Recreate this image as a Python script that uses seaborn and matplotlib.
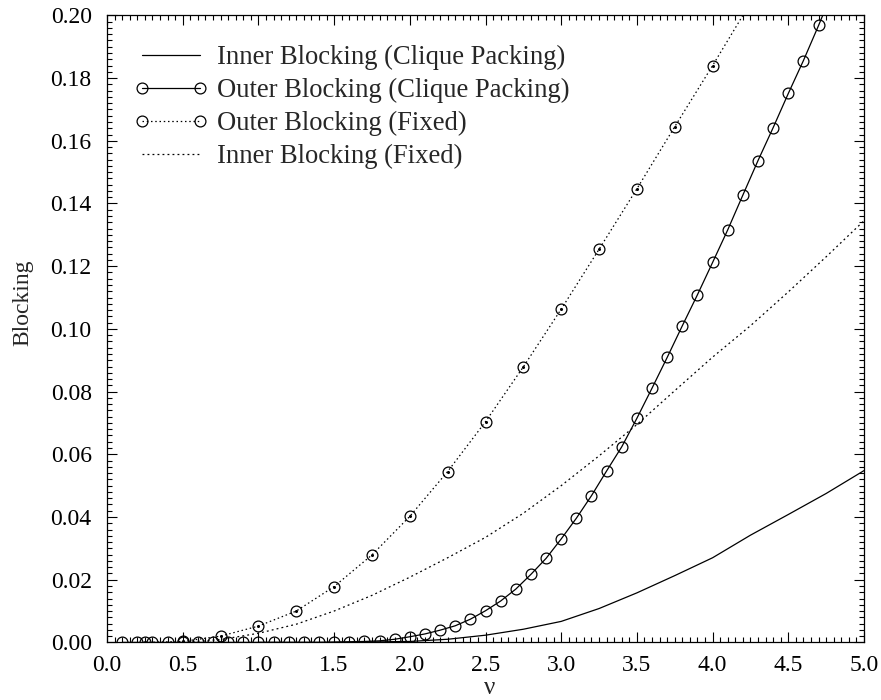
import numpy as np
import pandas as pd
import matplotlib
matplotlib.use("Agg")
import matplotlib.pyplot as plt
import seaborn as sns
from matplotlib.ticker import MultipleLocator, FormatStrFormatter

# ---- data ----
# Outer Blocking (Clique Packing): markers every 0.1
outer_cp_x = [0.1, 0.2, 0.3, 0.4, 0.5, 0.6, 0.7, 0.8, 0.9, 1.0,
              1.1, 1.2, 1.3, 1.4, 1.5, 1.6, 1.7, 1.8, 1.9, 2.0,
              2.1, 2.2, 2.3, 2.4, 2.5, 2.6, 2.7, 2.8, 2.9, 3.0,
              3.1, 3.2, 3.3, 3.4, 3.5, 3.6, 3.7, 3.8, 3.9, 4.0,
              4.1, 4.2, 4.3, 4.4, 4.5, 4.6, 4.7, 4.8]
outer_cp_y = [0.0, 0.0, 0.0, 0.0, 0.0, 0.0, 0.0, 0.0, 0.0, 0.0,
              0.0, 0.0, 0.0, 0.0, 0.0001, 0.0002, 0.0003, 0.0005, 0.0010, 0.0018,
              0.0027, 0.0039, 0.0053, 0.0074, 0.0101, 0.0132, 0.0170, 0.0217, 0.0268, 0.0330,
              0.0396, 0.0468, 0.0547, 0.0624, 0.0715, 0.0811, 0.0909, 0.1010, 0.1109, 0.1212,
              0.1316, 0.1427, 0.1537, 0.1642, 0.1751, 0.1856, 0.1968, 0.2085]

# Outer Blocking (Fixed): markers every 0.25
outer_fx_x = [0.25, 0.5, 0.75, 1.0, 1.25, 1.5, 1.75, 2.0, 2.25, 2.5,
              2.75, 3.0, 3.25, 3.5, 3.75, 4.0, 4.25]
outer_fx_y = [0.0, 0.0003, 0.0020, 0.0052, 0.0100, 0.0178, 0.0279, 0.0402, 0.0545, 0.0704,
              0.0879, 0.1063, 0.1254, 0.1447, 0.1645, 0.1840, 0.2040]

# Inner Blocking (Clique Packing)
inner_cp_x = [1.0, 1.5, 2.0, 2.25, 2.5, 2.75, 3.0, 3.25, 3.5, 3.75, 4.0, 4.25, 4.5, 4.75, 5.0]
inner_cp_y = [0.0, 0.0, 0.0003, 0.0010, 0.0023, 0.0042, 0.0067, 0.0108, 0.0158, 0.0213,
              0.0270, 0.0342, 0.0408, 0.0475, 0.0548]

# Inner Blocking (Fixed)
inner_fx_x = [0.5, 0.75, 1.0, 1.25, 1.5, 1.75, 2.0, 2.25, 2.5, 2.75, 3.0,
              3.25, 3.5, 3.75, 4.0, 4.25, 4.5, 4.75, 5.0]
inner_fx_y = [0.0, 0.0009, 0.0029, 0.0058, 0.0100, 0.0150, 0.0208, 0.0270, 0.0335, 0.0412, 0.0500,
              0.0595, 0.0695, 0.0803, 0.0910, 0.1010, 0.1118, 0.1230, 0.1345]

labels = ["Inner Blocking (Clique Packing)", "Outer Blocking (Clique Packing)",
          "Outer Blocking (Fixed)", "Inner Blocking (Fixed)"]

sns.set_theme(style="ticks")
plt.rcParams["font.family"] = ["Liberation Serif", "DejaVu Serif"]
plt.rcParams["mathtext.fontset"] = "stix"

fig = plt.figure(figsize=(8.81, 7.0), dpi=100)
ax = fig.add_axes([107 / 881, 1 - 642.4 / 700, (864 - 107) / 881, (642.4 - 15.4) / 700])

lw = 0.9
ms = 7.8
sns.lineplot(x=inner_cp_x, y=inner_cp_y, ax=ax, color="black", linewidth=lw,
             label=labels[0], estimator=None, sort=False)
sns.lineplot(x=outer_cp_x, y=outer_cp_y, ax=ax, color="black", linewidth=lw,
             marker="o", markersize=ms, markerfacecolor="none", markeredgecolor="black",
             markeredgewidth=0.9, label=labels[1], estimator=None, sort=False)
sns.lineplot(x=outer_fx_x, y=outer_fx_y, ax=ax, color="black", linewidth=lw,
             linestyle=(0, (1.2, 2.2)),
             marker="o", markersize=ms, markerfacecolor="none", markeredgecolor="black",
             markeredgewidth=0.9, label=labels[2], estimator=None, sort=False)
sns.lineplot(x=inner_fx_x, y=inner_fx_y, ax=ax, color="black", linewidth=lw,
             linestyle=(0, (1.5, 2.5)), label=labels[3], estimator=None, sort=False)
# center dots of the "Fixed" markers
ax.plot(outer_fx_x, outer_fx_y, linestyle="none", marker="o", markersize=1.2,
        color="black")

ax.set_xlim(0.0, 5.0)
ax.set_ylim(0.0, 0.20)
ax.xaxis.set_major_locator(MultipleLocator(0.5))
ax.xaxis.set_minor_locator(MultipleLocator(0.05))
ax.yaxis.set_major_locator(MultipleLocator(0.02))
ax.yaxis.set_minor_locator(MultipleLocator(0.002))
ax.xaxis.set_major_formatter(FormatStrFormatter("%.1f"))
ax.yaxis.set_major_formatter(FormatStrFormatter("%.2f"))
ax.tick_params(which="both", direction="in", top=True, right=True, colors="black",
               labelsize=17, width=0.8)
ax.tick_params(which="major", length=7)
ax.tick_params(which="minor", length=3.5)
ax.tick_params(axis="y", which="major", pad=11)
ax.tick_params(axis="x", which="major", pad=9)
for s in ax.spines.values():
    s.set_linewidth(0.9)
    s.set_color("black")

ax.set_xlabel("ν", fontsize=18, va="baseline")
ax.set_ylabel("Blocking", fontsize=17)
ax.xaxis.set_label_coords(0.505, -0.083)
ax.yaxis.set_label_coords(-0.097, 0.541)

leg = ax.legend(loc="upper left", frameon=False, fontsize=19.2, numpoints=2,
                handlelength=2.75, handletextpad=0.35, labelspacing=0.3,
                borderaxespad=0.0, bbox_to_anchor=(0.022, 0.97))

fig.savefig("out.png", dpi=100)
